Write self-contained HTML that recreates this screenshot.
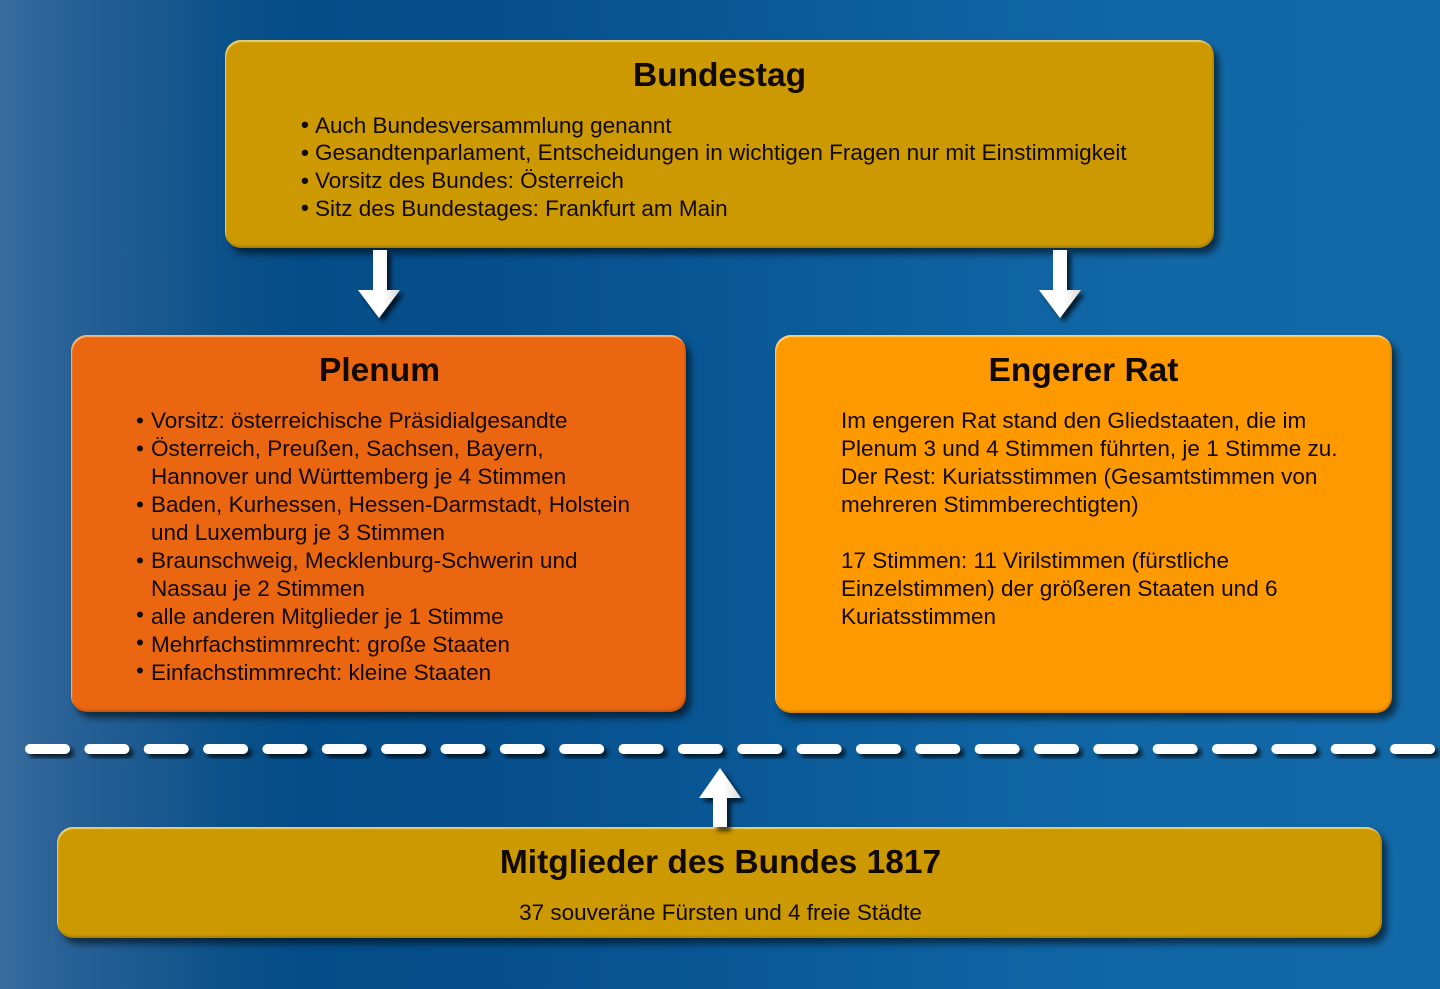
<!DOCTYPE html>
<html><head><meta charset="utf-8">
<style>
html,body{margin:0;padding:0;}
body{width:1440px;height:989px;position:relative;overflow:hidden;
background:linear-gradient(to right,#386c9d 0px,#2a6297 60px,#1a5990 150px,#0b5189 230px,#044d89 300px,#064f8c 500px,#0a5897 750px,#0f63a2 1000px,#1268a7 1200px,#1369a8 1440px);
font-family:"Liberation Sans",Arial,sans-serif;color:#100a00;}
.box{position:absolute;border-radius:16px;
box-shadow:inset 1px 2px 1px rgba(255,250,210,.55),inset -1px -2px 2px rgba(0,0,0,.18),5px 6px 7px rgba(0,0,0,.55);}
.gold{background:#cc9900;}
.t{position:absolute;white-space:nowrap;}
.title{font-weight:bold;font-size:33.5px;line-height:40px;text-align:center;}
.ln{font-size:22.5px;line-height:28px;}
.bb{font-weight:bold;}
</style></head><body>

<!-- Boxes -->
<div class="box gold" style="left:225px;top:40px;width:989px;height:208px;"></div>
<div class="box" style="left:71px;top:335px;width:615px;height:377px;background:#ea6610;"></div>
<div class="box" style="left:775px;top:335px;width:617px;height:378px;background:#ff9900;"></div>
<div class="box gold" style="left:57px;top:827px;width:1325px;height:111px;"></div>

<!-- Arrows and dashes -->
<svg width="1440" height="989" style="position:absolute;left:0;top:0;" xmlns="http://www.w3.org/2000/svg">
<defs>
<filter id="sh" x="-50%" y="-50%" width="200%" height="200%">
<feDropShadow dx="4" dy="4" stdDeviation="2.5" flood-color="#000" flood-opacity="0.7"/>
</filter>
<linearGradient id="ag" x1="0" x2="1" y1="0" y2="0">
<stop offset="0" stop-color="#ffffff"/><stop offset="0.6" stop-color="#ffffff"/><stop offset="1" stop-color="#d8d8d8"/>
</linearGradient>
</defs>
<g filter="url(#sh)" fill="url(#ag)">
<polygon points="373,250 387,250 387,290 400,290 379,318 358,290 373,290"/>
<polygon points="1053,250 1067,250 1067,290 1081,290 1060,318 1039,290 1053,290"/>
<polygon points="713,827 727,827 727,798 741,798 720,768 699,798 713,798"/>
</g>
<g filter="url(#sh)" fill="#ffffff">
<rect x="25" y="744" width="45" height="10" rx="5"/>
<rect x="84.35" y="744" width="45" height="10" rx="5"/>
<rect x="143.7" y="744" width="45" height="10" rx="5"/>
<rect x="203.05" y="744" width="45" height="10" rx="5"/>
<rect x="262.4" y="744" width="45" height="10" rx="5"/>
<rect x="321.75" y="744" width="45" height="10" rx="5"/>
<rect x="381.1" y="744" width="45" height="10" rx="5"/>
<rect x="440.45" y="744" width="45" height="10" rx="5"/>
<rect x="499.8" y="744" width="45" height="10" rx="5"/>
<rect x="559.15" y="744" width="45" height="10" rx="5"/>
<rect x="618.5" y="744" width="45" height="10" rx="5"/>
<rect x="677.85" y="744" width="45" height="10" rx="5"/>
<rect x="737.2" y="744" width="45" height="10" rx="5"/>
<rect x="796.55" y="744" width="45" height="10" rx="5"/>
<rect x="855.9" y="744" width="45" height="10" rx="5"/>
<rect x="915.25" y="744" width="45" height="10" rx="5"/>
<rect x="974.6" y="744" width="45" height="10" rx="5"/>
<rect x="1033.95" y="744" width="45" height="10" rx="5"/>
<rect x="1093.3" y="744" width="45" height="10" rx="5"/>
<rect x="1152.65" y="744" width="45" height="10" rx="5"/>
<rect x="1212" y="744" width="45" height="10" rx="5"/>
<rect x="1271.35" y="744" width="45" height="10" rx="5"/>
<rect x="1330.7" y="744" width="45" height="10" rx="5"/>
<rect x="1390.05" y="744" width="45" height="10" rx="5"/>
</g>
</svg>

<!-- Bundestag -->
<div class="t title" style="left:225px;width:989px;top:56px;">Bundestag</div>
<div class="t ln bb" style="left:301px;top:111px;">•</div><div class="t ln" style="left:315px;top:112px;">Auch Bundesversammlung genannt</div>
<div class="t ln bb" style="left:301px;top:139px;">•</div><div class="t ln" style="left:315px;top:139px;">Gesandtenparlament, Entscheidungen in wichtigen Fragen nur mit Einstimmigkeit</div>
<div class="t ln bb" style="left:301px;top:167px;">•</div><div class="t ln" style="left:315px;top:167px;">Vorsitz des Bundes: Österreich</div>
<div class="t ln bb" style="left:301px;top:194px;">•</div><div class="t ln" style="left:315px;top:195px;">Sitz des Bundestages: Frankfurt am Main</div>

<!-- Plenum -->
<div class="t title" style="left:71px;width:617px;top:351px;">Plenum</div>
<div class="t ln" style="left:136px;top:407px;">•</div><div class="t ln" style="left:151px;top:407px;">Vorsitz: österreichische Präsidialgesandte</div>
<div class="t ln" style="left:136px;top:435px;">•</div><div class="t ln" style="left:151px;top:435px;">Österreich, Preußen, Sachsen, Bayern,</div>
<div class="t ln" style="left:151px;top:463px;">Hannover und Württemberg je 4 Stimmen</div>
<div class="t ln" style="left:136px;top:491px;">•</div><div class="t ln" style="left:151px;top:491px;">Baden, Kurhessen, Hessen-Darmstadt, Holstein</div>
<div class="t ln" style="left:151px;top:519px;">und Luxemburg je 3 Stimmen</div>
<div class="t ln" style="left:136px;top:547px;">•</div><div class="t ln" style="left:151px;top:547px;">Braunschweig, Mecklenburg-Schwerin und</div>
<div class="t ln" style="left:151px;top:575px;">Nassau je 2 Stimmen</div>
<div class="t ln" style="left:136px;top:601px;">•</div><div class="t ln" style="left:151px;top:603px;">alle anderen Mitglieder je 1 Stimme</div>
<div class="t ln" style="left:136px;top:629px;">•</div><div class="t ln" style="left:151px;top:631px;">Mehrfachstimmrecht: große Staaten</div>
<div class="t ln" style="left:136px;top:657px;">•</div><div class="t ln" style="left:151px;top:659px;">Einfachstimmrecht: kleine Staaten</div>

<!-- Engerer Rat -->
<div class="t title" style="left:775px;width:617px;top:351px;">Engerer Rat</div>
<div class="t ln" style="left:841px;top:407px;">Im engeren Rat stand den Gliedstaaten, die im</div>
<div class="t ln" style="left:841px;top:435px;">Plenum 3 und 4 Stimmen führten, je 1 Stimme zu.</div>
<div class="t ln" style="left:841px;top:463px;">Der Rest: Kuriatsstimmen (Gesamtstimmen von</div>
<div class="t ln" style="left:841px;top:491px;">mehreren Stimmberechtigten)</div>
<div class="t ln" style="left:841px;top:547px;">17 Stimmen: 11 Virilstimmen (fürstliche</div>
<div class="t ln" style="left:841px;top:575px;">Einzelstimmen) der größeren Staaten und 6</div>
<div class="t ln" style="left:841px;top:603px;">Kuriatsstimmen</div>

<!-- Mitglieder -->
<div class="t title" style="left:57px;width:1327px;top:843px;">Mitglieder des Bundes 1817</div>
<div class="t ln" style="left:57px;width:1327px;top:899px;text-align:center;">37 souveräne Fürsten und 4 freie Städte</div>

</body></html>
